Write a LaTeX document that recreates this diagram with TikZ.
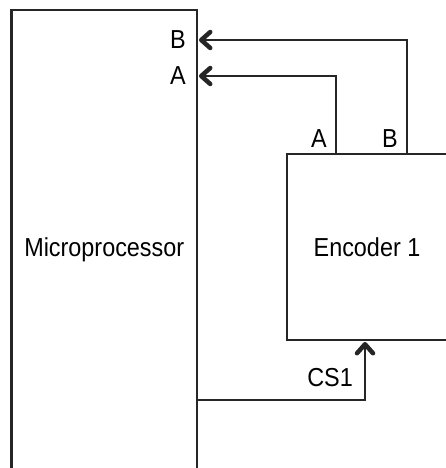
\documentclass[tikz,border=0pt]{standalone}
\usepackage{fontspec}
\setmainfont{Liberation Sans}[FakeStretch=0.9]
\usetikzlibrary{arrows.meta}
\tikzset{
	block/.style={draw=black!85, line width=2.6pt, inner sep=0pt, font=\fontsize{26}{30}\selectfont},
	wire/.style={draw=black!85, line width=2.6pt},
	sig/.style={wire, -{Straight Barb[length=9pt, width=16pt, line width=4.5pt, round]}},
	pin/.style={inner sep=0pt, font=\fontsize{26}{30}\selectfont}
}

\begin{document}
\begin{tikzpicture}[x=1pt, y=-1pt]
			\useasboundingbox (0, 0) rectangle (446, 468);
			\clip (0, 0) rectangle (446, 468);

			\node[block, minimum width=185.5pt, minimum height=480pt] (mp)  at (104.25, 250) {Microprocessor};
			\node[block, minimum width=160pt, minimum height=186pt]   (enc) at (367, 247) {Encoder 1};

			\coordinate (pinA) at (336, 154);
			\coordinate (pinB) at (407, 154);
			\coordinate (inA)  at (199, 76);
			\coordinate (inB)  at (199, 40);
			\coordinate (csin) at (365, 342);
			\coordinate (csout) at (197, 400);

			\draw[sig] (pinB) |- (inB);
			\draw[sig] (pinA) |- (inA);
			\draw[sig] (csout) -| (csin);

			\node[pin, anchor=east] (labB) at (186, 40) {B};
			\node[pin, anchor=east] (labA) at (186, 76) {A};
			\node[pin, anchor=south east] (encA) at (327, 148) {A};
			\node[pin, anchor=south east] (encB) at (398, 148) {B};
			\node[pin, anchor=south east] (cs) at (353, 387) {CS1};
		\end{tikzpicture}
\end{document}
